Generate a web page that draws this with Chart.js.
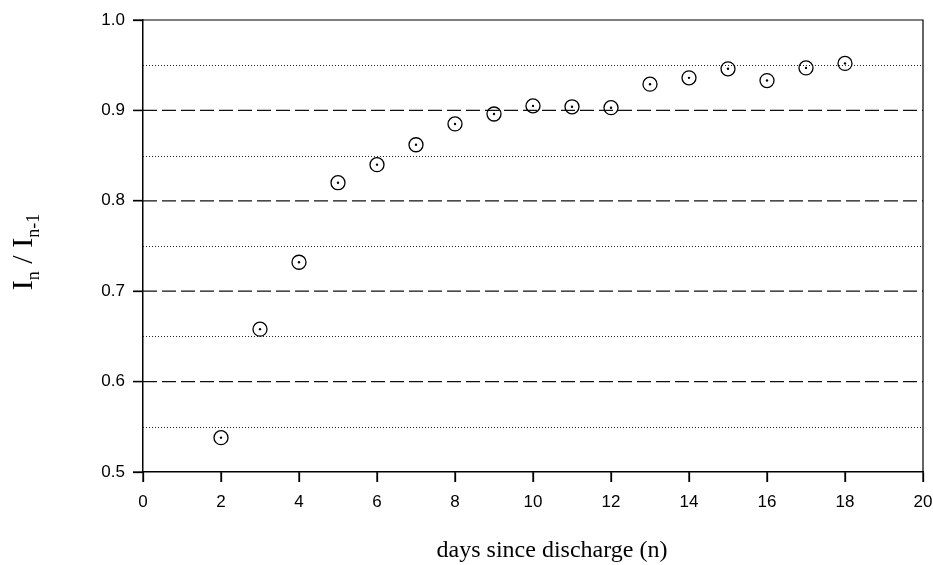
<!DOCTYPE html>
<html>
<head>
<meta charset="utf-8">
<script src="https://cdn.jsdelivr.net/npm/chart.js@4/dist/chart.umd.min.js"></script>
<style>
  html, body { margin: 0; padding: 0; background: #fff; }
  #wrap { width: 933px; height: 565px; }
</style>
</head>
<body>
<div id="wrap"><canvas id="c" width="933" height="565"></canvas></div>
<script>
// ---- data ----
const days = [2, 3, 4, 5, 6, 7, 8, 9, 10, 11, 12, 13, 14, 15, 16, 17, 18];
const ratio = [0.538, 0.658, 0.732, 0.820, 0.840, 0.862, 0.885, 0.896, 0.905, 0.904, 0.903, 0.929, 0.936, 0.946, 0.933, 0.947, 0.952];
const yTicks = [0.5, 0.6, 0.7, 0.8, 0.9, 1.0];
const xTicks = [0, 2, 4, 6, 8, 10, 12, 14, 16, 18, 20];
const dashedGrid = [0.6, 0.7, 0.8, 0.9];
const dottedGrid = [0.55, 0.65, 0.75, 0.85, 0.95];
const xTitle = 'days since discharge (n)';
const yTitleParts = [['I', false], ['n', true], [' / ', false], ['I', false], ['n-1', true]];

const points = days.map((d, i) => ({ x: d, y: ratio[i] }));

const TICK_LEN = 10;

const gridPlugin = {
  id: 'gridPlugin',
  beforeDatasetsDraw(chart) {
    const { ctx, chartArea: a, scales } = chart;
    const y = scales.y, x = scales.x;
    ctx.save();
    ctx.strokeStyle = '#222';
    ctx.lineWidth = 1;
    ctx.setLineDash([1, 2]);
    dottedGrid.forEach(v => {
      const p = Math.round(y.getPixelForValue(v)) + 0.5;
      ctx.beginPath(); ctx.moveTo(a.left, p); ctx.lineTo(a.right, p); ctx.stroke();
    });
    ctx.strokeStyle = '#111';
    ctx.lineWidth = 1.3;
    ctx.setLineDash([14, 5]);
    dashedGrid.forEach(v => {
      const p = y.getPixelForValue(v);
      ctx.beginPath(); ctx.moveTo(a.left, p); ctx.lineTo(a.right, p); ctx.stroke();
    });
    ctx.setLineDash([]);
    // frame top/right
    ctx.strokeStyle = '#000';
    ctx.lineWidth = 1.2;
    ctx.beginPath();
    ctx.moveTo(a.left, a.top); ctx.lineTo(a.right, a.top); ctx.lineTo(a.right, a.bottom);
    ctx.stroke();
    // tick marks
    ctx.lineWidth = 1.3;
    yTicks.forEach(v => {
      const p = y.getPixelForValue(v);
      ctx.beginPath(); ctx.moveTo(a.left - TICK_LEN, p); ctx.lineTo(a.left, p); ctx.stroke();
    });
    xTicks.forEach(v => {
      const p = x.getPixelForValue(v);
      ctx.beginPath(); ctx.moveTo(p, a.bottom); ctx.lineTo(p, a.bottom + TICK_LEN); ctx.stroke();
    });
    ctx.restore();
  },
  afterDraw(chart) {
    const { ctx, chartArea: a } = chart;
    ctx.save();
    ctx.fillStyle = '#000';
    // x title
    ctx.font = '24px "Liberation Serif", "Times New Roman", serif';
    ctx.textAlign = 'center';
    ctx.textBaseline = 'alphabetic';
    ctx.fillText(xTitle, (a.left + a.right) / 2 + 19, 557);
    // y title (rotated, with subscripts)
    const bigFont = '30px "Liberation Serif", "Times New Roman", serif';
    const smallFont = '18px "Liberation Serif", "Times New Roman", serif';
    let total = 0;
    yTitleParts.forEach(([t, sub]) => { ctx.font = sub ? smallFont : bigFont; total += ctx.measureText(t).width; });
    const cy = (a.top + a.bottom) / 2 + 6;
    ctx.translate(32, cy + total / 2);
    ctx.rotate(-Math.PI / 2);
    ctx.textAlign = 'left';
    let u = 0;
    yTitleParts.forEach(([t, sub]) => {
      ctx.font = sub ? smallFont : bigFont;
      ctx.fillText(t, u, sub ? 7 : 0);
      u += ctx.measureText(t).width;
    });
    ctx.restore();
  }
};

new Chart(document.getElementById('c'), {
  type: 'scatter',
  data: {
    datasets: [
      {
        data: points,
        pointStyle: 'circle',
        pointRadius: 7,
        pointHoverRadius: 7,
        pointBorderWidth: 1.3,
        borderColor: '#000',
        backgroundColor: 'rgba(0,0,0,0)',
        showLine: false
      },
      {
        data: points,
        pointStyle: 'circle',
        pointRadius: 1.2,
        pointHoverRadius: 1.2,
        pointBorderWidth: 0,
        borderColor: '#000',
        backgroundColor: '#000',
        showLine: false
      }
    ]
  },
  options: {
    responsive: false,
    animation: false,
    events: [],
    layout: { padding: { left: 0, right: 10, top: 20, bottom: 0 } },
    plugins: { legend: { display: false }, tooltip: { enabled: false } },
    scales: {
      x: {
        type: 'linear',
        min: xTicks[0],
        max: xTicks[xTicks.length - 1],
        afterFit(s) { s.height = 93; s.paddingLeft = 0; s.paddingRight = 0; },
        afterBuildTicks(s) { s.ticks = xTicks.map(v => ({ value: v })); },
        ticks: {
          color: '#000',
          font: { family: '"Liberation Sans", Arial, sans-serif', size: 17 },
          padding: 10,
          maxRotation: 0,
          callback: v => String(v)
        },
        grid: { drawOnChartArea: false, drawTicks: true, tickLength: TICK_LEN, tickColor: '#000', tickWidth: 1.3 },
        border: { display: true, color: '#000', width: 1.5 }
      },
      y: {
        type: 'linear',
        min: yTicks[0],
        max: yTicks[yTicks.length - 1],
        afterFit(s) { s.width = 143; s.paddingTop = 0; s.paddingBottom = 0; },
        afterBuildTicks(s) { s.ticks = yTicks.map(v => ({ value: v })); },
        ticks: {
          color: '#000',
          font: { family: '"Liberation Sans", Arial, sans-serif', size: 17 },
          padding: 8,
          callback: v => Number(v).toFixed(1)
        },
        grid: { drawOnChartArea: false, drawTicks: true, tickLength: TICK_LEN, tickColor: '#000', tickWidth: 1.3 },
        border: { display: true, color: '#000', width: 1.5 }
      }
    }
  },
  plugins: [gridPlugin]
});
</script>
</body>
</html>
